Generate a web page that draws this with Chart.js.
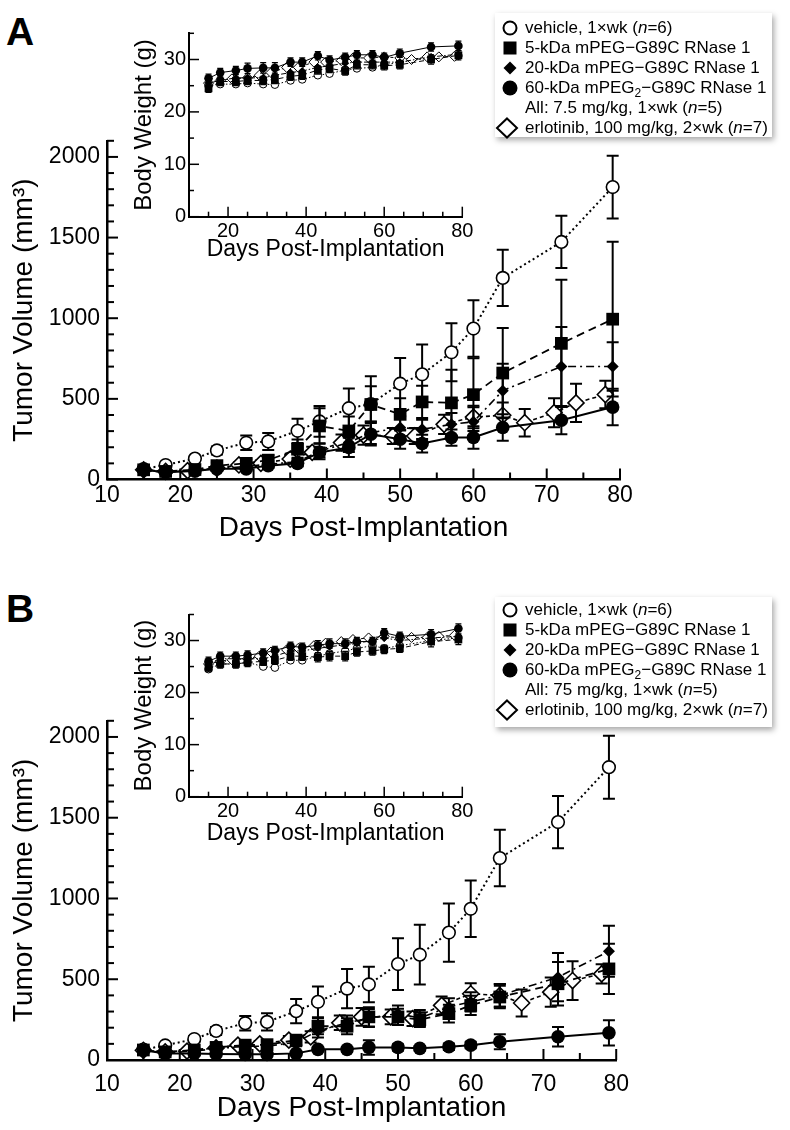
<!DOCTYPE html>
<html>
<head>
<meta charset="utf-8">
<script src="https://cdn.jsdelivr.net/npm/chart.js@4.4.1/dist/chart.umd.min.js"></script>
<style>
body { margin:0; background:#fff; width:790px; height:1130px; position:relative; overflow:hidden;
       font-family:"Liberation Sans", Arial, sans-serif; color:#000; }
canvas { position:absolute; }
.letter { position:absolute; left:6px; font-weight:bold; font-size:39px; line-height:1; }
.legend { position:absolute; left:495px; width:277px; box-sizing:border-box; background:#fff;
          box-shadow:2px 3px 6px rgba(0,0,0,0.35); font-size:17px; z-index:5; }
.row { position:relative; height:20px; line-height:20px; padding-left:30px; white-space:nowrap; }
.row svg { position:absolute; left:3px; top:0; }
sub { font-size:12px; line-height:0; vertical-align:-4px; }
</style>
</head>
<body>

<div class="letter" style="top:12px">A</div>
<div class="letter" style="top:589px">B</div>

<canvas id="mainA" width="640" height="440" style="left:0;top:120px"></canvas>
<canvas id="insetA" width="380" height="260" style="left:100px;top:10px"></canvas>
<canvas id="mainB" width="640" height="430" style="left:0;top:700px"></canvas>
<canvas id="insetB" width="380" height="260" style="left:100px;top:590px"></canvas>

<div class="legend" style="top:13px;height:124px;padding-top:5px">
  <div class="row"><svg width="24" height="20"><circle cx="12" cy="10" r="6.5" fill="#fff" stroke="#000" stroke-width="2"/></svg>vehicle, 1×wk (<i>n</i>=6)</div>
  <div class="row"><svg width="24" height="20"><rect x="5.5" y="3.5" width="13" height="13" fill="#000"/></svg>5-kDa mPEG−G89C RNase 1</div>
  <div class="row"><svg width="24" height="20"><polygon points="12,3.5 18.5,10 12,16.5 5.5,10" fill="#000"/></svg>20-kDa mPEG−G89C RNase 1</div>
  <div class="row"><svg width="24" height="20"><circle cx="12" cy="10" r="7.5" fill="#000"/></svg>60-kDa mPEG<sub>2</sub>−G89C RNase 1</div>
  <div class="row">All: 7.5 mg/kg, 1×wk (<i>n</i>=5)</div>
  <div class="row"><svg width="28" height="22" style="left:0;top:-1px"><polygon points="12,1.5 22,11 12,20.5 2,11" fill="#fff" stroke="#000" stroke-width="2"/></svg>erlotinib, 100 mg/kg, 2×wk (<i>n</i>=7)</div>
</div>

<div class="legend" style="top:597px;height:130px;padding-top:3px">
  <div class="row"><svg width="24" height="20"><circle cx="12" cy="10" r="6.5" fill="#fff" stroke="#000" stroke-width="2"/></svg>vehicle, 1×wk (<i>n</i>=6)</div>
  <div class="row"><svg width="24" height="20"><rect x="5.5" y="3.5" width="13" height="13" fill="#000"/></svg>5-kDa mPEG−G89C RNase 1</div>
  <div class="row"><svg width="24" height="20"><polygon points="12,3.5 18.5,10 12,16.5 5.5,10" fill="#000"/></svg>20-kDa mPEG−G89C RNase 1</div>
  <div class="row"><svg width="24" height="20"><circle cx="12" cy="10" r="7.5" fill="#000"/></svg>60-kDa mPEG<sub>2</sub>−G89C RNase 1</div>
  <div class="row">All: 75 mg/kg, 1×wk (<i>n</i>=5)</div>
  <div class="row"><svg width="28" height="22" style="left:0;top:-1px"><polygon points="12,1.5 22,11 12,20.5 2,11" fill="#fff" stroke="#000" stroke-width="2"/></svg>erlotinib, 100 mg/kg, 2×wk (<i>n</i>=7)</div>
</div>

<script>
// ---- days of measurement ----
const daysRN = [15, 18, 22, 25, 29, 32, 36, 39, 43, 46, 50, 53, 57, 60, 64, 72, 79];
const daysErlo = [15, 18, 21, 25, 28, 31, 35, 38, 42, 45, 49, 52, 56, 60, 64, 67, 71, 74, 78];

// ---- tumor volume, vehicle (same group in both panels) ----
const vehVol = [65, 90, 130, 180, 228, 236, 302, 360, 442, 468, 594, 652, 789, 936, 1250, 1473, 1813];
const vehErr = [10, 12, 18, 25, 45, 53, 75, 95, 122, 110, 160, 185, 180, 175, 175, 162, 195];

// ---- panel A tumor volume ----
const a5Vol = [60, 50, 62, 86, 100, 120, 188, 332, 301, 465, 404, 481, 475, 526, 660, 844, 994];
const a5Err = [10, 8, 12, 20, 25, 30, 60, 110, 90, 175, 100, 100, 205, 226, 280, 395, 480];
const a20Vol = [55, 45, 55, 68, 80, 95, 110, 175, 230, 290, 322, 311, 342, 358, 551, 701, 701];
const a20Err = [8, 8, 10, 12, 15, 20, 25, 50, 60, 70, 70, 60, 70, 90, 166, 245, 150];
const a60Vol = [60, 45, 52, 66, 66, 86, 100, 168, 199, 281, 250, 223, 260, 260, 322, 367, 449];
const a60Err = [8, 8, 10, 12, 12, 15, 20, 30, 60, 70, 60, 55, 50, 70, 82, 86, 113];
const aErloVol = [60, 50, 55, 70, 90, 100, 127, 168, 229, 275, 270, 270, 342, 387, 398, 352, 414, 475, 527];
const aErloErr = [8, 8, 10, 12, 15, 18, 25, 35, 50, 60, 50, 50, 60, 70, 80, 85, 90, 118, 85];

// ---- panel B tumor volume ----
const b5Vol = [62, 50, 62, 78, 92, 95, 123, 209, 209, 267, 267, 250, 287, 338, 390, 472, 564];
const b5Err = [10, 8, 10, 15, 20, 20, 30, 50, 50, 60, 50, 45, 55, 60, 70, 134, 155];
const b20Vol = [60, 45, 55, 70, 85, 85, 110, 180, 230, 260, 287, 260, 328, 360, 400, 513, 673];
const b20Err = [8, 8, 10, 12, 15, 15, 25, 40, 45, 55, 50, 50, 55, 60, 70, 150, 158];
const b60Vol = [60, 40, 40, 37, 35, 35, 41, 66, 66, 78, 78, 72, 82, 92, 113, 144, 168];
const b60Err = [8, 6, 6, 6, 6, 6, 8, 12, 15, 45, 20, 15, 20, 20, 47, 60, 78];
const bErloVol = [60, 50, 55, 75, 92, 100, 123, 143, 230, 267, 267, 256, 338, 410, 400, 353, 420, 492, 533];
const bErloErr = [8, 8, 10, 12, 15, 18, 25, 35, 45, 55, 45, 45, 55, 65, 70, 83, 90, 120, 60];

// ---- body weight insets (g) ----
const aVehBW = [25.0, 25.3, 25.3, 25.5, 25.3, 25.2, 26.0, 26.2, 27.0, 27.3, 28.0, 28.3, 28.5, 29.0, 29.5, 30.3, 30.7];
const a5BW = [24.5, 25.8, 25.8, 26.0, 26.0, 26.2, 26.8, 27.0, 28.0, 28.3, 27.8, 29.0, 29.0, 28.8, 29.0, 30.0, 30.8];
const a5BWErr = [0.8, 0.8, 0.8, 0.8, 0.8, 0.8, 0.8, 0.8, 0.8, 0.8, 0.8, 0.8, 0.8, 0.8, 0.8, 0.9, 0.9];
const a20BW = [25.5, 26.0, 26.5, 26.5, 26.5, 27.0, 27.5, 27.8, 28.5, 28.8, 29.3, 29.5, 29.5, 29.5, 29.5, 30.5, 31.0];
const a60BW = [26.4, 27.5, 27.9, 28.3, 28.4, 28.4, 29.5, 29.5, 30.7, 29.9, 30.4, 30.9, 30.9, 30.4, 31.2, 32.4, 32.6];
const a60BWErr = [0.8, 0.8, 0.8, 1.0, 1.0, 1.0, 0.8, 0.8, 0.8, 0.8, 0.8, 0.8, 0.8, 0.8, 0.8, 0.8, 0.9];
const aErloBW = [25.5, 26.0, 26.3, 26.5, 27.0, 27.5, 28.5, 28.5, 29.5, 29.5, 29.8, 30.3, 30.3, 30.5, 30.3, 30.0, 30.5, 30.5, 30.6];

const bVehBW = [24.5, 25.5, 25.5, 25.8, 25.0, 24.8, 26.2, 26.2, 27.0, 27.5, 28.0, 28.5, 29.0, 28.5, 29.0, 30.0, 30.5];
const b5BW = [24.8, 25.5, 25.5, 25.8, 26.0, 26.2, 27.0, 27.0, 26.8, 27.0, 27.0, 27.8, 28.0, 28.3, 28.5, 29.8, 30.2];
const b5BWErr = [0.8, 0.8, 0.8, 0.8, 0.8, 0.8, 0.8, 0.8, 0.9, 0.9, 0.9, 0.8, 0.8, 0.8, 0.8, 1.0, 1.0];
const b20BW = [25.5, 26.5, 26.5, 26.5, 26.5, 27.0, 28.0, 28.0, 28.5, 28.8, 29.2, 29.5, 30.0, 30.5, 30.0, 30.5, 30.8];
const b60BW = [26.0, 27.0, 27.0, 27.2, 27.6, 28.1, 28.9, 28.7, 29.1, 29.4, 29.4, 29.8, 29.8, 31.5, 30.8, 31.2, 32.3];
const b60BWErr = [0.8, 0.8, 0.8, 0.8, 0.8, 0.8, 0.8, 0.8, 0.9, 0.9, 0.9, 0.8, 0.8, 0.8, 0.8, 0.9, 0.9];
const bErloBW = [25.5, 26.0, 26.3, 26.5, 27.0, 27.8, 28.2, 28.5, 29.0, 29.5, 29.8, 30.2, 30.5, 30.8, 30.5, 30.6, 30.6, 30.8, 31.0];

// ---- axis ticks ----
const mainXLabels = [10, 20, 30, 40, 50, 60, 70, 80];
const mainXMinor = [15, 25, 35, 45, 55, 65, 75];
const mainYLabels = [0, 500, 1000, 1500, 2000];
const mainYMinor = [100, 200, 300, 400, 600, 700, 800, 900, 1100, 1200, 1300, 1400, 1600, 1700, 1800, 1900, 2100];
const insetXLabels = [20, 40, 60, 80];
const insetXMinor = [15, 25, 30, 35, 45, 50, 55, 65, 70, 75];
const insetYLabels = [0, 10, 20, 30];
const insetYMinor = [5, 15, 25, 35];

const FONT = '"Liberation Sans", Arial, sans-serif';

// vertical error bars, drawn under each dataset's own markers
const errorBars = {
  id: 'errorBars',
  beforeDatasetDraw(chart, args, opts) {
    const set = chart.data.datasets[args.index];
    if (!set.err) return;
    const ctx = chart.ctx, ys = chart.scales.y;
    ctx.save();
    ctx.strokeStyle = '#000';
    ctx.lineWidth = opts.width;
    ctx.setLineDash([]);
    args.meta.data.forEach((pt, i) => {
      const e = set.err[i];
      if (!e) return;
      const v = set.data[i].y;
      const top = ys.getPixelForValue(v + e), bot = ys.getPixelForValue(v - e);
      ctx.beginPath();
      ctx.moveTo(pt.x, top); ctx.lineTo(pt.x, bot);
      ctx.moveTo(pt.x - opts.cap, top); ctx.lineTo(pt.x + opts.cap, top);
      ctx.moveTo(pt.x - opts.cap, bot); ctx.lineTo(pt.x + opts.cap, bot);
      ctx.stroke();
    });
    ctx.restore();
  }
};

// tick marks pointing into the plot
const innerTicks = {
  id: 'innerTicks',
  afterDraw(chart, args, o) {
    const {ctx, chartArea} = chart;
    const xs = chart.scales.x, ys = chart.scales.y;
    ctx.save();
    ctx.strokeStyle = '#000';
    ctx.lineWidth = o.width;
    function tx(vals, len) {
      vals.forEach(v => {
        const p = xs.getPixelForValue(v);
        ctx.beginPath(); ctx.moveTo(p, chartArea.bottom); ctx.lineTo(p, chartArea.bottom - len); ctx.stroke();
      });
    }
    function ty(vals, len) {
      vals.forEach(v => {
        const p = ys.getPixelForValue(v);
        ctx.beginPath(); ctx.moveTo(chartArea.left, p); ctx.lineTo(chartArea.left + len, p); ctx.stroke();
      });
    }
    tx(o.xMajor, o.majLen); tx(o.xMinor, o.minLen);
    ty(o.yMajor, o.majLen); ty(o.yMinor, o.minLen);
    ctx.restore();
  }
};

const mainStyle = {
  veh:  {ps: 'circle',  r: 6.3, fill: '#fff', bw: 1.6, dash: [2, 3]},
  k5:   {ps: 'rect',    r: 9,   fill: '#000', bw: 0,   dash: [8, 5]},
  k20:  {ps: 'rectRot', r: 6,   fill: '#000', bw: 0,   dash: [8, 4, 2, 4]},
  k60:  {ps: 'circle',  r: 6.8, fill: '#000', bw: 0,   dash: []},
  erlo: {ps: 'rectRot', r: 8,   fill: '#fff', bw: 1.6, dash: [4, 3]}
};
const insetStyle = {
  veh:  {ps: 'circle',  r: 3.8, fill: '#fff', bw: 1, dash: [1.5, 2]},
  k5:   {ps: 'rect',    r: 5.5, fill: '#000', bw: 0, dash: [5, 3]},
  k20:  {ps: 'rectRot', r: 4,   fill: '#000', bw: 0, dash: [5, 2, 1.5, 2]},
  k60:  {ps: 'circle',  r: 4.3, fill: '#000', bw: 0, dash: []},
  erlo: {ps: 'rectRot', r: 5,   fill: '#fff', bw: 1, dash: [3, 2]}
};

function ds(days, vals, errs, st, lw) {
  return {
    data: days.map((d, i) => ({x: d, y: vals[i]})),
    err: errs,
    showLine: true,
    borderColor: '#000',
    borderWidth: lw,
    borderDash: st.dash,
    pointStyle: st.ps,
    pointRadius: st.r,
    pointBackgroundColor: st.fill,
    pointBorderColor: '#000',
    pointBorderWidth: st.bw,
    clip: false
  };
}

function makeChart(id, sets, c) {
  return new Chart(document.getElementById(id), {
    type: 'scatter',
    data: {datasets: sets},
    options: {
      responsive: false, animation: false, events: [],
      layout: {padding: c.pad},
      plugins: {
        legend: {display: false}, tooltip: {enabled: false},
        errorBars: {cap: c.cap, width: c.errW},
        innerTicks: {xMajor: c.xLabels, xMinor: c.xMinor, yMajor: c.yLabels, yMinor: c.yMinor,
                     majLen: c.majLen, minLen: c.minLen, width: c.tickW}
      },
      scales: {
        x: {
          type: 'linear', min: 10, max: 80,
          afterBuildTicks: s => { s.ticks = c.xLabels.map(v => ({value: v})); },
          afterFit: s => { s.height = c.xH; },
          grid: {display: false, drawTicks: false},
          border: {display: true, color: '#000', width: c.axisW},
          ticks: {color: '#000', font: {family: FONT, size: c.tickSize}, padding: c.xPad,
                  maxRotation: 0, autoSkip: false, callback: v => String(v)},
          title: {display: true, text: 'Days Post-Implantation', color: '#000',
                  font: {family: FONT, size: c.xTitleSize}, padding: 0}
        },
        y: {
          type: 'linear', min: 0, max: c.yMax,
          afterBuildTicks: s => { s.ticks = c.yLabels.map(v => ({value: v})); },
          afterFit: s => { s.width = c.yW; },
          grid: {display: false, drawTicks: false},
          border: {display: true, color: '#000', width: c.axisW},
          ticks: {color: '#000', font: {family: FONT, size: c.tickSize}, padding: c.yPad,
                  autoSkip: false, callback: v => String(v)},
          title: {display: true, text: c.yTitle, color: '#000',
                  font: {family: FONT, size: c.yTitleSize}, padding: {top: c.yTitlePad, bottom: 0}}
        }
      }
    },
    plugins: [errorBars, innerTicks]
  });
}

const mainCommon = {
  xLabels: mainXLabels, xMinor: mainXMinor, yLabels: mainYLabels, yMinor: mainYMinor,
  yMax: 2100, yW: 107, cap: 6, errW: 2, majLen: 11, minLen: 7, tickW: 2, axisW: 2.5,
  tickSize: 23, xTitleSize: 28, yTitleSize: 28, yPad: 7, yTitlePad: 7,
  yTitle: 'Tumor Volume (mm³)'
};
const insetCommon = {
  xLabels: insetXLabels, xMinor: insetXMinor, yLabels: insetYLabels, yMinor: insetYMinor,
  yMax: 35, yW: 89, cap: 3, errW: 1.2, majLen: 10, minLen: 5, tickW: 1.5, axisW: 2,
  tickSize: 20, xTitleSize: 23, yTitleSize: 24, yPad: 3, yTitlePad: 30,
  yTitle: 'Body Weight (g)'
};

// ---- panel A ----
const S = mainStyle, I = insetStyle;
makeChart('mainA', [
  ds(daysRN, a60Vol, a60Err, S.k60, 2),
  ds(daysRN, a20Vol, a20Err, S.k20, 1.6),
  ds(daysRN, a5Vol, a5Err, S.k5, 1.8),
  ds(daysErlo, aErloVol, aErloErr, S.erlo, 1.6),
  ds(daysRN, vehVol, vehErr, S.veh, 2)
], Object.assign({}, mainCommon, {pad: {top: 17, right: 20, left: 0, bottom: 15}, xH: 65.5, xPad: 2}));

makeChart('insetA', [
  ds(daysRN, a60BW, a60BWErr, I.k60, 1),
  ds(daysRN, a20BW, null, I.k20, 1),
  ds(daysRN, a5BW, a5BWErr, I.k5, 1),
  ds(daysErlo, aErloBW, null, I.erlo, 1),
  ds(daysRN, aVehBW, null, I.veh, 1)
], Object.assign({}, insetCommon, {pad: {top: 23.3, right: 17.7, left: 0, bottom: 6.3}, xH: 47, xPad: 3}));

// ---- panel B ----
makeChart('mainB', [
  ds(daysRN, b60Vol, b60Err, S.k60, 2),
  ds(daysRN, b20Vol, b20Err, S.k20, 1.6),
  ds(daysRN, b5Vol, b5Err, S.k5, 1.8),
  ds(daysErlo, bErloVol, bErloErr, S.erlo, 1.6),
  ds(daysRN, vehVol, vehErr, S.veh, 2)
], Object.assign({}, mainCommon, {pad: {top: 18, right: 20, left: 0, bottom: 5}, xH: 65, xPad: 11}));

makeChart('insetB', [
  ds(daysRN, b60BW, b60BWErr, I.k60, 1),
  ds(daysRN, b20BW, null, I.k20, 1),
  ds(daysRN, b5BW, b5BWErr, I.k5, 1),
  ds(daysErlo, bErloBW, null, I.erlo, 1),
  ds(daysRN, bVehBW, null, I.veh, 1)
], Object.assign({}, insetCommon, {pad: {top: 24.5, right: 17.7, left: 0, bottom: 3}, xH: 50.3, xPad: 3}));
</script>
</body>
</html>
